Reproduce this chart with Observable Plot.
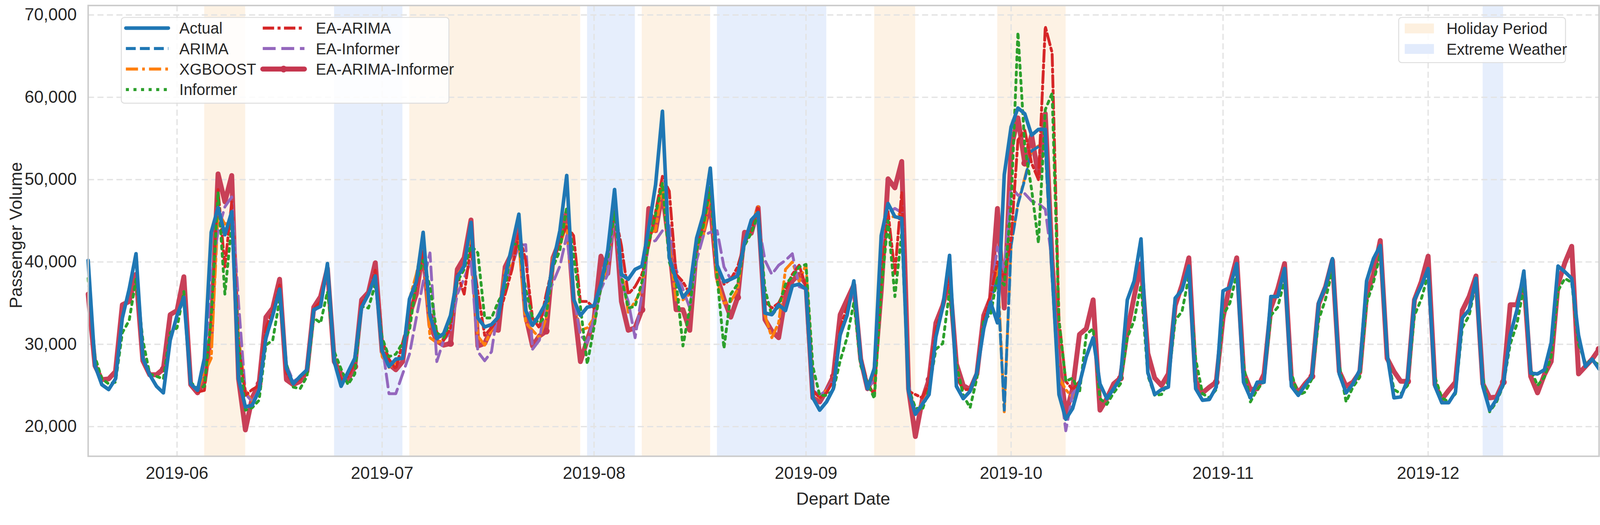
<!DOCTYPE html>
<html><head><meta charset="utf-8">
<script src="https://cdn.jsdelivr.net/npm/d3@7"></script>
<script src="https://cdn.jsdelivr.net/npm/@observablehq/plot@0.6"></script>
<style>body{margin:0;background:#fff}</style>
</head><body><div id="chart"></div>
<script>
// Daily values in thousands of passengers, starting 2019-05-19
const startDate = "2019-05-19";
const actual = [
40.2,27.4,25.1,24.5,25.8,33.2,36.7,41.0,28.3,26.3,
24.9,24.1,30.5,33.5,35.7,25.2,24.4,28.3,43.6,46.6,
43.3,46.1,25.8,22.4,22.6,24.4,30.8,33.5,36.7,27.1,
25.2,26.1,26.9,34.2,34.6,39.8,27.9,24.9,26.6,28.3,
34.5,36.1,38.3,29.2,27.3,28.2,28.3,35.5,37.6,43.6,
33.5,30.7,31.3,33.5,38.2,39.5,44.8,33.2,32.1,32.4,
33.3,38.2,42.0,45.8,34.1,32.3,33.6,35.1,39.9,43.8,
50.5,35.5,33.5,34.5,34.7,37.3,41.4,48.8,38.5,37.9,
39.1,39.5,44.1,49.4,58.3,40.5,37.9,35.7,36.7,42.9,
45.8,51.4,39.6,37.6,37.9,38.3,42.3,45.1,46.0,33.8,
33.6,34.8,34.1,37.1,37.3,36.7,23.5,22.0,23.0,24.6,
31.2,33.5,37.7,28.2,24.6,27.1,43.2,47.1,45.5,45.3,
24.3,21.5,22.7,23.9,30.9,34.5,40.8,24.9,23.4,24.3,
26.6,31.9,35.1,32.6,50.6,56.4,58.7,58.0,55.4,56.1,
56.1,39.0,23.9,20.9,22.2,25.2,28.5,30.8,25.2,23.4,
24.6,25.9,35.4,37.7,42.8,26.6,23.9,24.5,24.8,35.6,
36.6,39.5,24.6,23.2,23.3,24.8,36.5,36.9,39.8,25.4,
23.5,25.4,25.4,35.8,35.8,39.2,24.9,23.8,25.0,26.1,
35.1,37.0,40.4,26.4,24.1,25.2,26.9,37.7,40.4,42.0,
28.8,23.5,23.6,25.7,35.4,37.1,39.2,24.9,22.9,22.9,
24.2,33.2,34.2,38.0,24.9,22.0,23.3,25.2,31.1,34.2,
38.9,26.5,26.4,26.9,30.2,39.5,38.8,38.0,31.1,27.3,
28.2,27.0];
const eaArimaInformer = [
36.1,27.4,25.7,25.8,26.7,34.8,35.2,38.5,28.0,26.3,
26.3,27.0,33.6,34.1,38.2,25.1,24.1,25.5,31.4,50.7,
47.3,50.5,25.8,19.6,23.5,25.2,33.3,34.4,37.9,25.7,
25.1,25.5,26.7,34.5,35.8,39.2,27.9,26.4,25.7,27.3,
35.4,36.3,39.9,29.1,27.6,26.9,27.9,33.6,36.1,41.4,
32.3,30.4,29.9,30.1,39.1,40.5,45.1,29.8,30.1,31.9,
31.7,39.4,41.1,44.1,33.5,29.8,31.0,31.6,40.5,42.6,
46.0,35.2,27.9,30.5,33.0,40.7,38.6,46.7,35.2,31.7,
32.0,34.2,46.5,43.8,48.5,42.0,34.2,34.2,31.7,42.0,
43.8,47.1,38.2,35.5,33.3,35.7,43.6,43.5,46.6,33.0,
31.6,30.8,35.8,37.7,38.5,37.3,23.5,23.0,24.4,26.1,
33.6,35.4,37.2,28.2,24.6,26.2,36.5,50.1,49.0,52.2,
24.6,18.8,23.2,25.7,32.6,34.7,37.9,27.6,25.0,24.5,
26.4,33.5,35.6,46.5,34.4,53.8,57.5,52.0,55.4,50.4,
58.0,40.0,28.2,21.5,24.6,31.2,31.9,35.4,22.0,23.4,
25.2,25.9,31.6,35.8,39.8,28.9,25.9,25.0,26.4,34.7,
37.2,40.5,25.5,24.1,24.8,25.4,33.2,37.3,40.5,26.6,
24.5,24.6,26.4,34.4,36.7,39.8,25.7,24.1,25.2,26.1,
34.9,37.0,40.2,26.7,24.9,25.4,26.6,36.0,38.5,42.6,
28.3,26.7,25.5,25.5,35.4,37.6,40.7,25.1,23.3,24.4,
25.4,34.1,35.8,38.3,25.2,23.5,23.6,25.4,34.8,34.8,
37.9,26.1,24.1,26.3,27.9,37.3,39.9,41.9,26.4,27.3,
28.2,29.4];
const informer = [
38.0,28.5,25.8,25.2,25.4,31.4,32.9,37.9,30.5,26.4,
26.1,25.8,31.4,32.0,36.4,25.4,24.6,24.9,33.2,48.5,
36.1,44.6,30.0,22.0,22.3,23.2,29.9,30.5,35.4,27.6,
24.8,24.6,26.1,33.2,32.6,36.4,29.1,27.0,25.1,26.4,
34.6,34.4,37.3,30.8,28.5,28.8,30.2,31.7,37.6,40.2,
37.0,31.4,30.8,32.9,37.6,39.1,42.0,41.1,33.2,33.2,
35.2,36.7,42.3,42.0,36.7,33.2,32.6,33.5,39.4,41.4,
46.7,40.8,34.6,27.6,32.1,37.0,40.5,46.1,38.2,34.4,
34.6,37.6,42.3,45.8,49.6,40.0,37.6,29.8,34.4,41.4,
44.4,49.1,38.2,29.5,36.1,37.3,42.0,43.5,45.8,36.7,
33.5,34.6,37.3,38.2,39.4,39.7,27.3,23.8,23.8,24.4,
28.0,30.8,35.1,27.4,25.3,23.4,36.5,45.0,35.8,43.5,
24.6,22.3,22.0,24.5,29.4,30.1,36.5,27.6,23.8,22.3,
25.9,33.0,33.6,38.2,37.2,47.0,67.9,54.1,48.8,42.3,
58.5,60.5,32.9,25.5,25.9,24.1,31.2,31.9,23.4,22.7,
24.1,25.2,30.8,32.9,37.2,26.2,23.8,23.9,25.5,32.9,
34.0,38.2,28.2,24.0,23.5,24.5,33.5,35.0,38.5,27.5,
23.0,24.5,25.5,33.5,34.5,37.8,26.5,23.8,24.2,25.8,
33.0,35.5,39.0,27.5,23.0,24.8,26.0,35.0,37.5,41.0,
29.0,24.5,24.0,25.0,33.5,35.5,38.5,26.0,23.5,23.0,
24.0,32.0,33.5,37.5,26.0,21.8,23.0,25.0,30.0,32.5,
37.0,27.0,25.0,26.0,28.5,36.5,38.0,37.5,30.0,27.8,
28.0,27.5];
// Model series shown from 2019-06-04 (day index 16) to 2019-10-12 (index 145)
const windowStart = 16;
const xgboost = [
24.4,26.5,28.3,46.1,44.6,44.9,30.8,24.4,23.0,24.4,
30.8,33.5,36.7,27.1,25.2,26.1,26.9,34.2,34.6,39.8,
27.9,24.9,26.6,28.3,34.5,36.1,38.3,28.5,27.2,27.8,
28.5,35.5,38.5,42.5,30.8,30.2,30.5,33.5,38.5,39.5,
43.5,31.0,29.9,31.8,33.2,39.1,39.6,42.6,32.6,31.7,
30.8,33.2,40.5,42.0,44.6,35.5,31.7,32.0,33.2,36.7,
40.2,46.1,39.1,33.9,35.2,36.7,43.5,43.8,49.5,42.0,
35.4,35.4,36.1,42.0,43.2,48.8,37.6,35.0,35.2,36.7,
42.6,44.4,46.7,33.5,30.8,32.6,39.1,40.0,37.6,39.7,
24.4,23.5,24.4,25.6,31.0,33.5,37.5,28.0,24.8,25.5,
42.0,45.5,45.5,46.0,24.5,22.0,22.8,24.2,30.9,34.5,
40.5,25.0,23.4,24.3,26.6,31.9,35.1,39.5,21.8,42.1,
47.1,50.2,53.5,54.1,54.0,38.6,26.0,24.5,23.5,25.0];
const eaArima = [
24.2,24.4,33.2,48.8,39.4,47.3,30.0,23.8,24.5,25.0,
32.0,34.0,37.2,26.5,25.2,25.8,26.8,34.3,35.2,39.5,
28.0,25.7,26.1,27.8,35.0,36.2,39.0,30.5,28.2,27.0,
30.2,33.5,37.0,41.4,34.0,31.5,30.5,32.0,38.5,36.1,
42.0,36.4,31.1,32.0,33.2,36.1,39.1,43.5,40.2,33.2,
32.0,36.1,39.7,42.6,44.4,43.2,35.2,35.2,34.4,37.6,
41.4,46.1,42.0,36.1,37.0,38.5,42.0,46.1,50.4,48.6,
38.5,37.6,36.1,42.0,44.7,48.8,39.6,37.3,37.9,39.4,
42.3,43.8,46.7,35.2,34.4,35.0,36.7,38.5,39.6,37.0,
24.4,23.5,24.1,25.6,32.0,34.5,37.0,28.5,25.3,23.8,
38.0,46.1,38.6,48.5,24.3,23.9,23.5,25.3,32.0,34.5,
38.5,26.0,24.5,24.5,26.5,33.0,36.0,40.0,38.0,42.8,
54.8,56.0,52.0,50.0,68.6,65.4,33.0,25.5,24.5,25.5];
const eaInformer = [
24.4,27.5,38.0,43.8,46.7,47.9,35.0,24.0,23.0,24.5,
30.5,33.5,36.5,27.5,25.5,26.0,26.9,34.0,34.8,39.5,
28.0,25.0,26.4,28.0,34.5,36.0,38.5,30.0,24.0,24.0,
26.4,28.8,33.2,37.6,41.1,27.9,30.5,31.5,36.1,38.0,
40.2,29.1,28.0,29.1,34.6,37.0,39.6,42.0,42.1,29.4,
30.5,35.5,37.5,39.5,43.2,36.0,31.1,30.2,33.2,36.7,
38.5,46.1,37.6,35.2,30.8,36.1,42.3,42.6,43.8,44.4,
39.1,36.7,34.4,40.2,43.2,43.6,43.8,39.4,37.9,38.8,
42.6,44.4,44.9,40.2,38.5,39.6,40.2,41.0,37.0,36.7,
24.4,23.8,24.4,25.6,31.0,33.5,37.0,28.0,24.8,25.5,
42.0,46.0,46.5,46.0,25.0,21.8,22.8,24.0,30.9,34.5,
40.5,25.0,23.4,24.3,26.6,32.0,35.5,41.8,39.0,49.2,
48.1,48.3,47.4,47.1,46.4,40.0,26.0,19.5,24.0,25.0];
// ARIMA shown from index 128 (2019-09-24)
const arimaStart = 128;
const arima = [23.4,24.3,26.6,31.9,35.1,38.0,22.0,42.0,47.0,50.0,53.5,54.0,54.0,38.0,24.0,21.0,22.2,25.2];

const holidays = [["2019-06-05","2019-06-11"],["2019-07-05","2019-07-30"],["2019-08-08","2019-08-18"],["2019-09-11","2019-09-17"],["2019-09-29","2019-10-09"]];
const weather = [["2019-06-24","2019-07-04"],["2019-07-31","2019-08-07"],["2019-08-19","2019-09-04"],["2019-12-09","2019-12-12"]];
const monthTicks = ["2019-06-01","2019-07-01","2019-08-01","2019-09-01","2019-10-01","2019-11-01","2019-12-01"];
const yTicks = [20000,30000,40000,50000,60000,70000];

const t0 = new Date(startDate + "T00:00:00Z");
const day = i => d3.utcDay.offset(t0, i);
const toRows = (arr, s = 0) => arr.map((v, k) => ({date: day(s + k), value: v * 1000, idx: s + k}));
const dA = toRows(actual), dC = toRows(eaArimaInformer), dG = toRows(informer);
const dO = toRows(xgboost, windowStart), dR = toRows(eaArima, windowStart), dP = toRows(eaInformer, windowStart);
const dB = toRows(arima, arimaStart);
const band = (arr, kind) => arr.map(([a, b]) => ({x1: new Date(a + "T00:00:00Z"), x2: new Date(b + "T00:00:00Z"), kind}));
const bands = [...band(holidays, "h"), ...band(weather, "w")];

const C = {actual:"#1f77b4", arima:"#1f77b4", xgb:"#ff7f0e", inf:"#2ca02c", eaa:"#d62728", eai:"#9467bd", best:"#c5364f"};
const dash = {arima:"26,11", xgb:"32,11,7,11", inf:"8,12", eaa:"30,9,8,9", eai:"34,15"};
const FONT = "Liberation Sans, Arial, sans-serif";

const chart = Plot.plot({
  width: 4220, height: 1343,
  marginLeft: 232, marginRight: 3, marginTop: 14, marginBottom: 141,
  style: {fontSize: "45px", fontFamily: FONT, color: "#262626", background: "white"},
  x: {type: "utc", domain: [day(0), day(221)]},
  y: {domain: [16400, 71150]},
  marks: [
    Plot.rect(bands, {x1: "x1", x2: "x2", fill: d => d.kind === "h" ? "#fdf2e4" : "#e6eefc"}),
    Plot.gridY(yTicks, {stroke: "#e3e3e3", strokeOpacity: 1, strokeWidth: 3.5, strokeDasharray: "16,9"}),
    Plot.gridX(monthTicks.map(s => new Date(s + "T00:00:00Z")), {stroke: "#e3e3e3", strokeOpacity: 1, strokeWidth: 3.5, strokeDasharray: "16,9"}),
    Plot.line(dC, {x: "date", y: "value", stroke: C.best, strokeWidth: 13, strokeOpacity: 0.95}),
    Plot.dot(dC.filter(d => d.idx % 14 === 11), {x: "date", y: "value", r: 9, fill: C.best}),
    Plot.line(dO, {x: "date", y: "value", stroke: C.xgb, strokeWidth: 7.5, strokeDasharray: dash.xgb}),
    Plot.line(dB, {x: "date", y: "value", stroke: C.arima, strokeWidth: 7.5, strokeDasharray: dash.arima}),
    Plot.line(dP, {x: "date", y: "value", stroke: C.eai, strokeWidth: 7.5, strokeDasharray: dash.eai}),
    Plot.line(dR, {x: "date", y: "value", stroke: C.eaa, strokeWidth: 7.5, strokeDasharray: dash.eaa}),
    Plot.line(dG, {x: "date", y: "value", stroke: C.inf, strokeWidth: 7.5, strokeDasharray: dash.inf}),
    Plot.line(dA, {x: "date", y: "value", stroke: C.actual, strokeWidth: 9.5}),
    Plot.frame({stroke: "#cccccc", strokeWidth: 4}),
    Plot.axisY(yTicks, {tickSize: 0, tickPadding: 30, tickFormat: d3.format(","), label: null}),
    Plot.axisX(monthTicks.map(s => new Date(s + "T00:00:00Z")), {tickSize: 0, tickPadding: 28, tickFormat: d3.utcFormat("%Y-%m"), label: null})
  ]
});
document.getElementById("chart").append(chart);

const svg = d3.select(chart);
const txt = (g) => g.attr("fill", "#262626").attr("font-family", FONT);
txt(svg.append("text")).attr("x", 2224).attr("y", 1330).attr("text-anchor", "middle")
  .style("font-size", "46px").text("Depart Date");
txt(svg.append("text")).attr("transform", "translate(58,620) rotate(-90)").attr("text-anchor", "middle")
  .style("font-size", "46px").text("Passenger Volume");

// Legend 1
const L = svg.append("g");
L.append("rect").attr("x", 320).attr("y", 46).attr("width", 864).attr("height", 226).attr("rx", 8)
  .attr("fill", "white").attr("fill-opacity", 0.85).attr("stroke", "#dddddd").attr("stroke-width", 2.5);
const items = [
  {name: "Actual", col: 0, row: 0, c: C.actual, w: 9.5, d: null},
  {name: "ARIMA", col: 0, row: 1, c: C.arima, w: 8, d: dash.arima},
  {name: "XGBOOST", col: 0, row: 2, c: C.xgb, w: 8, d: dash.xgb},
  {name: "Informer", col: 0, row: 3, c: C.inf, w: 8, d: dash.inf},
  {name: "EA-ARIMA", col: 1, row: 0, c: C.eaa, w: 8, d: dash.eaa},
  {name: "EA-Informer", col: 1, row: 1, c: C.eai, w: 8, d: dash.eai},
  {name: "EA-ARIMA-Informer", col: 1, row: 2, c: C.best, w: 13, d: null, m: true}
];
for (const it of items) {
  const x0 = it.col ? 693 : 332, x1 = it.col ? 803 : 444, tx = it.col ? 833 : 473, y = 74 + it.row * 54;
  L.append("line").attr("x1", x0).attr("x2", x1).attr("y1", y).attr("y2", y).attr("stroke", it.c)
    .attr("stroke-width", it.w).attr("stroke-dasharray", it.d).attr("stroke-linecap", it.d ? "butt" : "round");
  if (it.m) L.append("circle").attr("cx", (x0 + x1) / 2).attr("cy", y).attr("r", 9).attr("fill", it.c);
  txt(L.append("text")).attr("x", tx).attr("y", y).attr("dy", "0.36em").attr("text-anchor", "start")
    .style("font-size", "41px").text(it.name);
}
// Legend 2
const L2 = svg.append("g");
L2.append("rect").attr("x", 3689).attr("y", 46).attr("width", 440).attr("height", 119).attr("rx", 8)
  .attr("fill", "white").attr("fill-opacity", 0.85).attr("stroke", "#dddddd").attr("stroke-width", 2.5);
[["Holiday Period", "#fdf0df", 62], ["Extreme Weather", "#e2ebfc", 116]].forEach(([t, f, y]) => {
  L2.append("rect").attr("x", 3705).attr("y", y).attr("width", 77).attr("height", 26).attr("fill", f);
  txt(L2.append("text")).attr("x", 3815).attr("y", y + 13).attr("dy", "0.36em").attr("text-anchor", "start")
    .style("font-size", "41px").text(t);
});
</script></body></html>
